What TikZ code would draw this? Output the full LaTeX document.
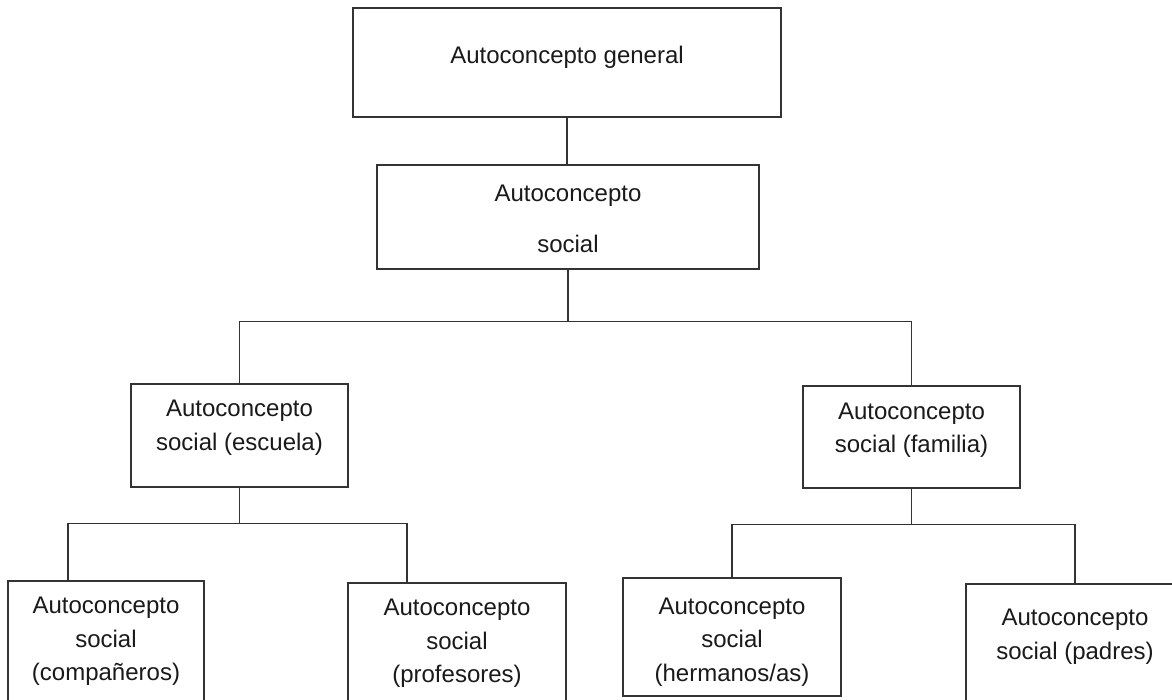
\documentclass[tikz,border=0pt]{standalone}
\usepackage{fontspec}
\setmainfont{Liberation Sans}
\usetikzlibrary{positioning}
\definecolor{lineDark}{HTML}{333333}
\definecolor{textDark}{HTML}{1A1A1A}

\begin{document}
\begin{tikzpicture}[
  x=1pt,y=-1pt,
  box/.style={draw=lineDark,line width=1.3pt,fill=white,inner sep=0pt},
  lbl/.style={align=center,inner sep=0pt,text=textDark,
    font=\fontsize{24}{33.5}\selectfont},
  con/.style={draw=lineDark,line width=1.2pt}
]
  \useasboundingbox (0,0) rectangle (1172,700);
  \clip (0,0) rectangle (1172,700);

  % niveles superiores
  \node[box,minimum width=428,minimum height=109] (gen) at (567,62.5) {};
  \node[lbl] (gen-t) at ([yshift=-49.5]gen.north) {Autoconcepto general};
  \node[box,minimum width=382,minimum height=104] (soc) at (568,217) {};
  \node[lbl] (soc-t) at ([yshift=-54.5]soc.north) {Autoconcepto\\[17pt]social};

  % escuela y familia
  \node[box,minimum width=217,minimum height=103] (esc) at (239.5,435.5) {};
  \node[lbl] (esc-t) at ([yshift=-44.5]esc.north) {Autoconcepto\\social (escuela)};
  \node[box,minimum width=217,minimum height=102] (fam) at (911.5,437) {};
  \node[lbl] (fam-t) at ([yshift=-45]fam.north) {Autoconcepto\\social (familia)};

  % ultimo nivel
  \node[box,minimum width=196,minimum height=179] (com) at (106,670.5) {};
  \node[lbl] (com-t) at ([yshift=-61]com.north) {Autoconcepto\\social\\(compañeros)};
  \node[box,minimum width=218,minimum height=177] (prof) at (457,671.5) {};
  \node[lbl] (prof-t) at ([yshift=-61]prof.north) {Autoconcepto\\social\\(profesores)};
  \node[box,minimum width=218,minimum height=118] (her) at (732,637) {};
  \node[lbl] (her-t) at ([yshift=-64.5]her.north) {Autoconcepto\\social\\(hermanos/as)};
  \node[box,minimum width=218,minimum height=176] (pad) at (1075,672) {};
  \node[lbl] (pad-t) at ([yshift=-53.5]pad.north) {Autoconcepto\\social (padres)};

  % conectores
  \draw[con] (gen.south) -- (gen.south |- soc.north);
  \draw[con] (soc.south) -- ++(0,52) coordinate (jsoc);
  \draw[con] (esc.north) |- (jsoc) -| (fam.north);
  \draw[con] (esc.south) -- ++(0,36) coordinate (jesc);
  \draw[con] ([xshift=-38]com.north) |- (jesc) -| ([xshift=-50]prof.north);
  \draw[con] (fam.south) -- ++(0,36) coordinate (jfam);
  \draw[con] (her.north) |- (jfam) -| (pad.north);
\end{tikzpicture}
\end{document}
